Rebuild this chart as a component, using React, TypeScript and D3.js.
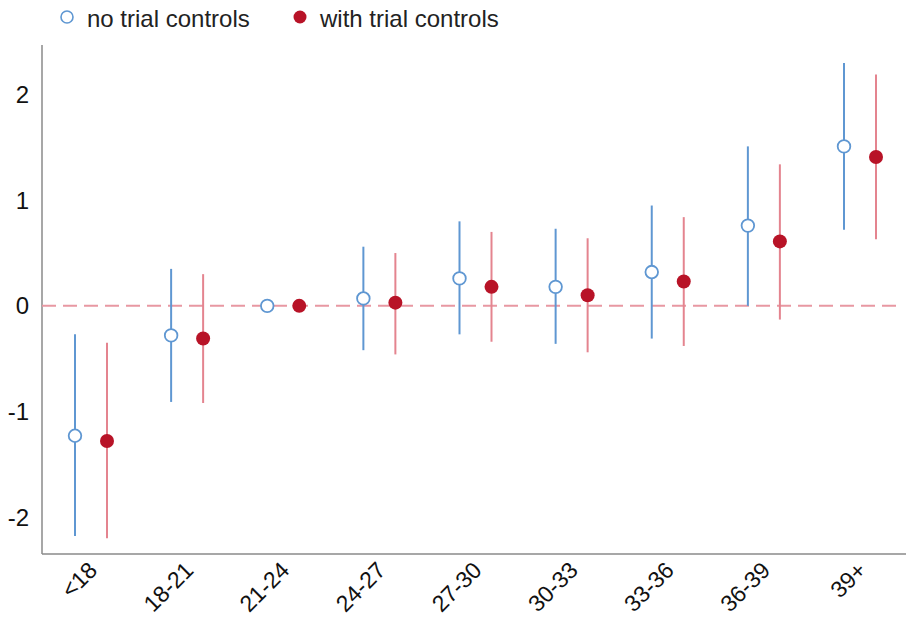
import React from "react";
import * as d3 from "d3";

const categories = ["<18", "18-21", "21-24", "24-27", "27-30", "30-33", "33-36", "36-39", "39+"];
const noTrialEst = [-1.23, -0.28, 0.0, 0.07, 0.26, 0.18, 0.32, 0.76, 1.51];
const noTrialLo = [-2.18, -0.91, 0.0, -0.42, -0.27, -0.36, -0.31, 0.0, 0.72];
const noTrialHi = [-0.27, 0.35, 0.0, 0.56, 0.8, 0.73, 0.95, 1.51, 2.3];
const withTrialEst = [-1.28, -0.31, 0.0, 0.03, 0.18, 0.1, 0.23, 0.61, 1.41];
const withTrialLo = [-2.2, -0.92, 0.0, -0.46, -0.34, -0.44, -0.38, -0.13, 0.63];
const withTrialHi = [-0.35, 0.3, 0.0, 0.5, 0.7, 0.64, 0.84, 1.34, 2.19];
const yTicks = [-2, -1, 0, 1, 2];

const W = 906;
const H = 621;
const left = 42;
const right = 906;
const top = 45;
const bottom = 554;

const BLUE = "#5f97d2";
const RED_LINE = "#e4848f";
const RED_PT = "#b81327";
const FONT = "'Liberation Sans', Arial, Helvetica, sans-serif";

export default function App() {
  const y = d3.scaleLinear().domain([-2.35, 2.47]).range([bottom, top]);
  const x = d3.scalePoint<string>().domain(categories).range([91, 860]);
  const off = 16;

  return (
    <svg width={W} height={H} style={{ position: "absolute", left: 0, top: 0, background: "#fff" }} fontFamily={FONT}>
      {/* legend */}
      <circle cx={67} cy={17} r={6} fill="none" stroke={BLUE} strokeWidth={1.6} />
      <text x={87} y={18} fontSize={24} fill="#222" dominantBaseline="central">no trial controls</text>
      <circle cx={300} cy={17} r={6.5} fill={RED_PT} />
      <text x={320} y={18} fontSize={24} fill="#222" dominantBaseline="central">with trial controls</text>

      {/* axes */}
      <line x1={left} x2={left} y1={top} y2={bottom} stroke="#8a8a8a" strokeWidth={1.5} />
      <line x1={left} x2={right} y1={bottom} y2={bottom} stroke="#8a8a8a" strokeWidth={1.5} />

      {yTicks.map((t) => (
        <text key={t} x={29} y={y(t)} fontSize={24} textAnchor="end" dominantBaseline="central" fill="#111">
          {t}
        </text>
      ))}

      {/* zero line */}
      <line x1={left} x2={900} y1={y(0)} y2={y(0)} stroke="#e898a2" strokeWidth={2} strokeDasharray="14 7" />

      {categories.map((c, i) => {
        const cx = x(c)!;
        return (
          <g key={c}>
            <line x1={cx - off} x2={cx - off} y1={y(noTrialLo[i])} y2={y(noTrialHi[i])} stroke={BLUE} strokeWidth={2} />
            <line x1={cx + off} x2={cx + off} y1={y(withTrialLo[i])} y2={y(withTrialHi[i])} stroke={RED_LINE} strokeWidth={2} />
            <circle cx={cx - off} cy={y(noTrialEst[i])} r={6.3} fill="#fff" stroke={BLUE} strokeWidth={1.8} />
            <circle cx={cx + off} cy={y(withTrialEst[i])} r={7} fill={RED_PT} />
            <text
              transform={`translate(${cx + 2},${566}) rotate(-45)`}
              fontSize={23}
              textAnchor="end"
              dominantBaseline="central"
              fill="#111"
            >
              {c}
            </text>
          </g>
        );
      })}
    </svg>
  );
}
